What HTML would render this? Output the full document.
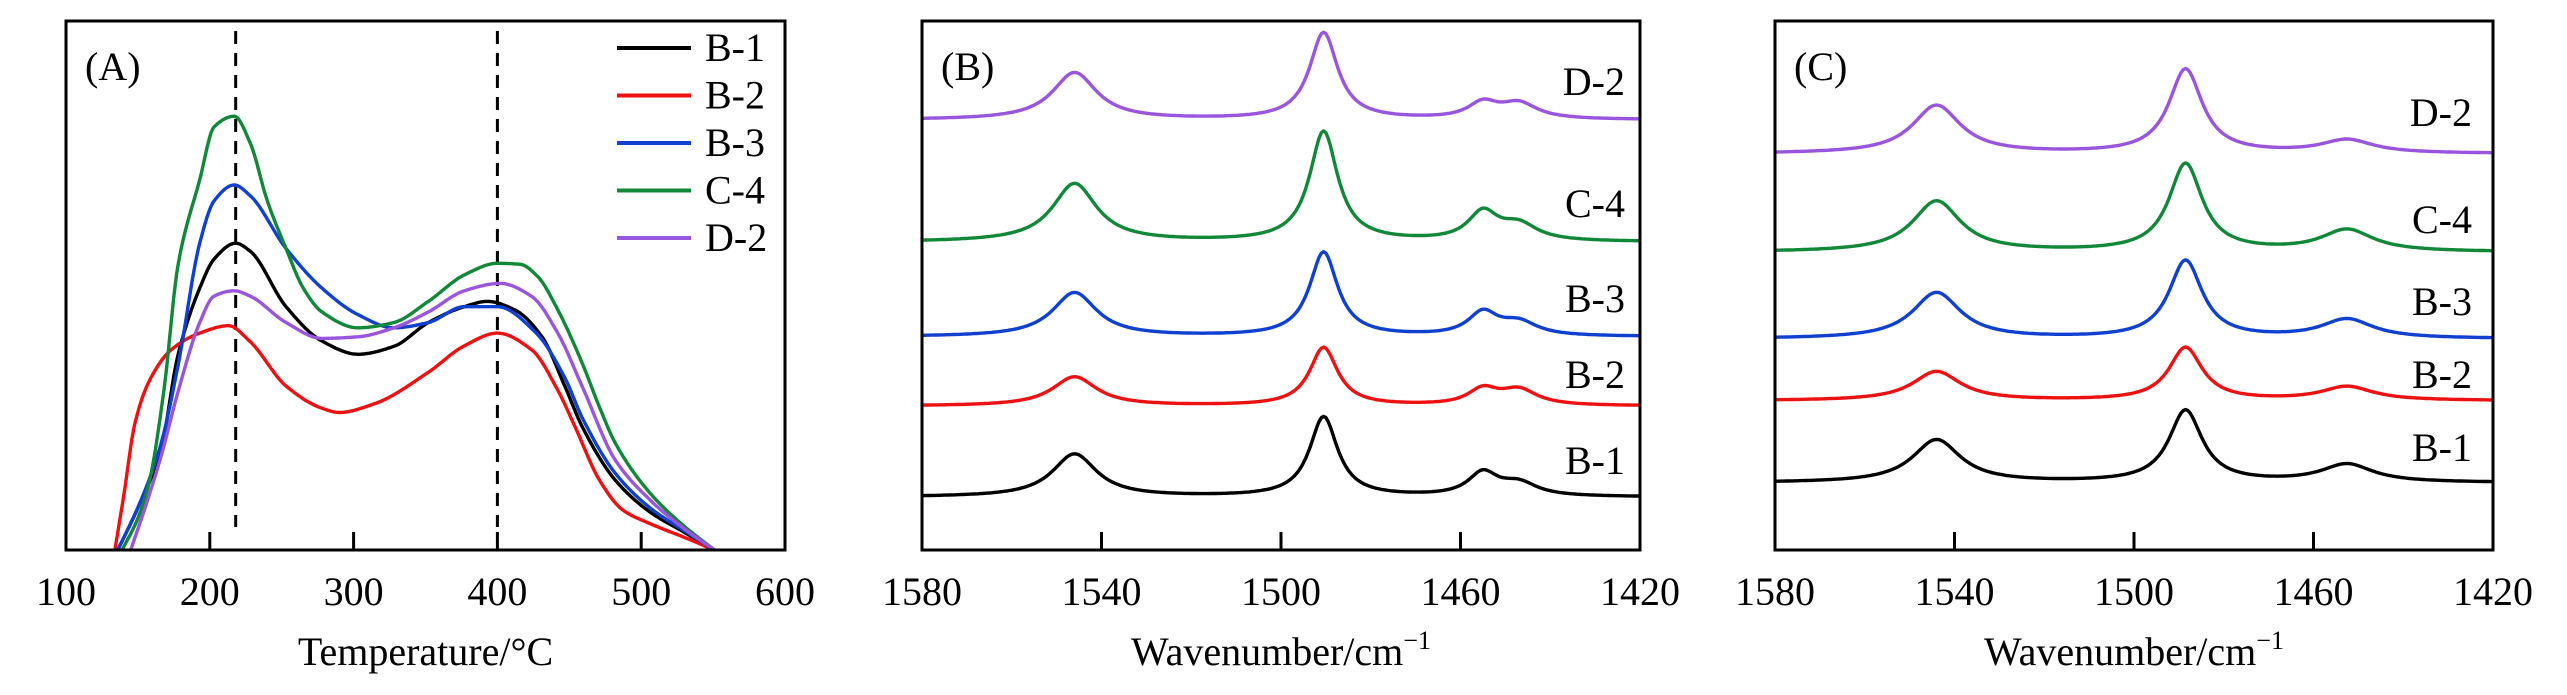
<!DOCTYPE html>
<html><head><meta charset="utf-8"><style>
html,body{margin:0;padding:0;background:#fff;}
svg{display:block;font-family:"Liberation Serif","Times New Roman",serif;}
</style></head><body>
<svg id="fig" width="2567" height="695" viewBox="0 0 2567 695" xmlns="http://www.w3.org/2000/svg"></svg>
<script>
// ---------- Panel A data (TPD) ----------
const tempTicks = [100,200,300,400,500,600];
const dashTemps = [218,400];
const seriesNames = ["B-1","B-2","B-3","C-4","D-2"];
const seriesColors = ["#000000","#ee1111","#1040d0","#108838","#9955dd"];
const b1T = [136,150,166,178,193,203,218,228,253,278,303,328,352,377,393,412,431,447,459,482,506,529,551];
const b1V = [0,8,19,37,49.5,55,58,56.5,46,39.5,37,38.5,43,46,47,45.4,40.3,30.9,23.3,13.2,7.2,3.5,0];
const b2T = [134,140,148,158,173,193,213,228,253,278,290,315,352,377,400,424,442,454,471,487,506,529,551];
const b2V = [0,10,24,32,37.8,41,42.4,39.4,31,26.8,26,27.7,33.6,38.6,41,37.8,30.2,23.3,13.2,7.6,5,2.5,0];
const b3T = [136,150,166,178,193,203,217,228,253,278,303,328,352,377,400,427,447,459,482,506,529,551];
const b3V = [0,8,20,35,58,66,69,67,57,49.5,44.5,42,43,46,46,41,32.5,25,14.5,8,3.8,0];
const c4T = [139,150,158,168,178,193,203,217,228,240,253,265,278,303,328,352,377,400,416,428,442,459,471,482,506,529,551];
const c4V = [0,6,13,30,54,70,80,82,77,66,57,49.5,45,42,43,47,52,54.2,54,51.7,45.4,35.3,27,20.2,10.8,4.7,0];
const d2T = [145,155,166,178,193,203,217,228,253,278,303,328,352,377,402,424,442,459,482,506,529,551];
const d2V = [0,8,17.6,30,43,48,49,48,43,40,40.3,42,45,49,50.4,47.9,41,30.9,17,9.5,4.2,0];

// ---------- Panel B data (IR spectra) ----------
const wnTicks = [1580,1540,1500,1460,1420];
const bBase = [10,27.2,40.3,58.2,81.3];
const bCenters = [1546,1490.5,1455,1447];
const bB1 = [8.1,15.1,4.3,2.4];
const bB2 = [5.5,11,2.9,2.9];
const bB3 = [8.3,15.9,4.3,2.5];
const bC4 = [11,20.8,5.3,3];
const bD2 = [8.9,16.4,2.9,2.9];
// ---------- Panel C data ----------
const cBase = [12.7,28.2,39.9,56.3,74.9];
const cCenters = [1544,1488.5,1452.5];
const cB1 = [8.1,13.6,3.4];
const cB2 = [5.5,10,2.6];
const cB3 = [8.7,14.7,3.6];
const cC4 = [9.6,16.6,4.1];
const cD2 = [9.1,15.9,2.5];

const NS="http://www.w3.org/2000/svg";
const svg=document.getElementById('fig');
function mk(tag,attrs,parent){const e=document.createElementNS(NS,tag);for(const k in attrs)e.setAttribute(k,attrs[k]);(parent||svg).appendChild(e);return e;}
const TOP=21,BOT=550,FONT=40;
const yS=v=>BOT-(v/100)*(BOT-TOP);

// monotone cubic (Fritsch-Carlson) interpolation, sampled densely
function monotone(xs,ys,step){
  const n=xs.length,d=[],m=new Array(n);
  for(let i=0;i<n-1;i++)d.push((ys[i+1]-ys[i])/(xs[i+1]-xs[i]));
  m[0]=d[0];m[n-1]=d[n-2];
  for(let i=1;i<n-1;i++){
    if(d[i-1]*d[i]<=0)m[i]=0;
    else{const w1=2*(xs[i+1]-xs[i])+(xs[i]-xs[i-1]),w2=(xs[i+1]-xs[i])+2*(xs[i]-xs[i-1]);m[i]=(w1+w2)/(w1/d[i-1]+w2/d[i]);}
  }
  const out=[];
  for(let i=0;i<n-1;i++){
    const h=xs[i+1]-xs[i];
    for(let x=xs[i];x<xs[i+1];x+=step){
      const t=(x-xs[i])/h,t2=t*t,t3=t2*t;
      const y=(2*t3-3*t2+1)*ys[i]+(t3-2*t2+t)*h*m[i]+(-2*t3+3*t2)*ys[i+1]+(t3-t2)*h*m[i+1];
      out.push([x,y]);
    }
  }
  out.push([xs[n-1],ys[n-1]]);
  return out;
}

// ===== Panel A =====
const AL=66,AR=785;
const xA=t=>AL+(t-100)/500*(AR-AL);
const gA=mk('g',{});


const cpA=mk('clipPath',{id:'clipA'},gA);mk('rect',{x:AL,y:TOP,width:AR-AL,height:BOT-TOP},cpA);
dashTemps.forEach(t=>{
  const l=mk('line',{x1:xA(t),x2:xA(t),y1:31,y2:527,stroke:'#000','stroke-width':3,'stroke-dasharray':'13,9'},gA);
  
  
});
const aT=[b1T,b2T,b3T,c4T,d2T],aV=[b1V,b2V,b3V,c4V,d2V];
aT.forEach((T,i)=>{
  const pts=monotone(T,aV[i],1).map(p=>xA(p[0]).toFixed(1)+','+yS(p[1]).toFixed(1));
  const p=mk('polyline',{points:pts.join(' '),fill:'none',stroke:seriesColors[i],'stroke-width':3.4,'stroke-linejoin':'round','clip-path':'url(#clipA)'},gA);
  
  
});
// legend
const leg=mk('g',{},gA);


seriesNames.forEach((n,i)=>{
  const y=48+i*47.5;
  const ln=mk('line',{x1:617,x2:691,y1:y,y2:y,stroke:seriesColors[i],'stroke-width':4},leg);
  
  
  const tx=mk('text',{x:705,y:y+13,'font-size':FONT},leg);tx.textContent=n;
  
  
});

// ===== generic axes =====
function frame(g,L,R,ticksX,xfn,labels,title,tag,innerTicks){
  const r=mk('rect',{x:L,y:TOP,width:R-L,height:BOT-TOP,fill:'none',stroke:'#000','stroke-width':3},g);
  
  
  innerTicks.forEach(v=>{
    const t=mk('line',{x1:xfn(v),x2:xfn(v),y1:BOT,y2:BOT-18,stroke:'#000','stroke-width':3},g);
    
    
  });
  ticksX.forEach(v=>{
    const t=mk('text',{x:xfn(v),y:605,'font-size':FONT,'text-anchor':'middle'},g);t.textContent=v;
    
    
  });
  const tt=mk('text',{x:(L+R)/2,y:665,'font-size':FONT,'text-anchor':'middle'},g);
  tt.innerHTML=title;
  
  
  const pl=mk('text',{x:L+19,y:80,'font-size':FONT},g);pl.textContent=tag;
  
  
}
frame(gA,AL,AR,tempTicks,xA,null,'Temperature/°C','(A)',[200,300,400,500]);

// ===== Spectra panels =====
function lor(x,c,h,g){return h/(1+((x-c)/g)**2);}
const wnTitle='Wavenumber/cm<tspan dy="-16" font-size="26">−1</tspan>';
function spectra(L,name,base,centers,heights,widths,labelX,labelY,tag){
  const R=L+718;
  const xW=w=>L+(1580-w)/160*(R-L);
  const g=mk('g',{});
  
  
  heights.forEach((hs,i)=>{
    const pts=[];
    for(let w=1580;w>=1420;w-=0.5){
      let v=base[i];
      centers.forEach((c,k)=>{v+=lor(w,c,hs[k],widths[k]);});
      pts.push(xW(w).toFixed(1)+','+yS(v).toFixed(1));
    }
    const p=mk('polyline',{points:pts.join(' '),fill:'none',stroke:seriesColors[i],'stroke-width':3.4,'stroke-linejoin':'round'},g);
    
    
    const t=mk('text',{x:labelX,y:labelY[i],'font-size':FONT,'text-anchor':'end'},g);t.textContent=seriesNames[i];
    
    
  });
  frame(g,L,R,wnTicks,xW,null,wnTitle,tag,[1540,1500,1460]);
}
spectra(922,'panel-b-ir-chart',bBase,bCenters,[bB1,bB2,bB3,bC4,bD2],[6,3.8,4,5],1625,[474,388,312,217,95],'(B)');
spectra(1775,'panel-c-ir-chart',cBase,cCenters,[cB1,cB2,cB3,cC4,cD2],[6.5,4.5,7],2472,[461,388,315,233,126],'(C)');
</script>
</body></html>
